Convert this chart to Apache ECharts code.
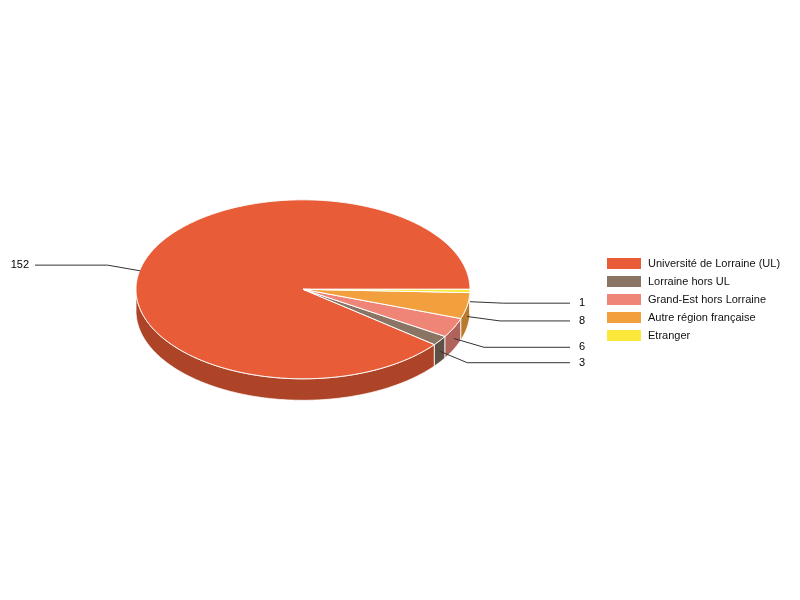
<!DOCTYPE html>
<html>
<head>
<meta charset="utf-8">
<script src="https://cdn.jsdelivr.net/npm/echarts@6/dist/echarts.min.js"></script>
<style>
html,body{margin:0;padding:0;background:#fff;}
#chart{width:800px;height:600px;}
</style>
</head>
<body>
<div id="chart"></div>
<script>
// ---- data ----
const categories = ['Université de Lorraine (UL)', 'Lorraine hors UL', 'Grand-Est hors Lorraine', 'Autre région française', 'Etranger'];
const values = [152, 3, 6, 8, 1];
// ---- styles ----
const topColors = ['#E85D38', '#8A7464', '#EE8576', '#F2A03E', '#FCE83A'];
const wallColors = ['#AD4428', '#5F5045', '#B0635A', '#B97A2E', '#BDAD2B'];

const geom = { cx: 303, cy: 289.3, rx: 167, ry: 89.5, depth: 21.5, rightX: 570, leftX: 35 };
const total = values.reduce((a, b) => a + b, 0);
const starts = [];
let acc = 0;
values.forEach(v => { starts.push(acc / total * 2 * Math.PI); acc += v; });

function pt(a, dz) {
  return [geom.cx + geom.rx * Math.cos(a), geom.cy - geom.ry * Math.sin(a) + (dz || 0)];
}
function arcPts(a0, a1, dz) {
  const n = Math.max(2, Math.ceil((a1 - a0) / 0.01));
  const res = [];
  for (let i = 0; i <= n; i++) res.push(pt(a0 + (a1 - a0) * i / n, dz));
  return res;
}

function renderItem(params, api) {
  const i = params.dataIndex;
  const v = api.value(0);
  const a0 = starts[i];
  const a1 = a0 + v / total * 2 * Math.PI;
  const children = [];
  // outer wall: visible only in lower half (angles PI..2PI)
  const w0 = Math.max(a0, Math.PI), w1 = Math.min(a1, 2 * Math.PI);
  if (w1 > w0) {
    const topE = arcPts(w0, w1, 0);
    const botE = arcPts(w0, w1, geom.depth).reverse();
    children.push({
      type: 'polygon', z2: 1,
      shape: { points: topE.concat(botE) },
      style: { fill: wallColors[i], stroke: '#fff', lineWidth: 0.8 }
    });
  }
  // top face
  children.push({
    type: 'polygon', z2: 5,
    shape: { points: [[geom.cx, geom.cy]].concat(arcPts(a0, a1, 0)) },
    style: { fill: topColors[i], stroke: '#fff', lineWidth: 1 }
  });
  // label
  const m = (a0 + a1) / 2;
  const right = Math.cos(m) >= 0;
  const an = pt(m, geom.depth / 2);
  if (!right) an[0] -= 5;
  const el = [geom.cx + (an[0] - geom.cx) * 1.2, geom.cy + (an[1] - geom.cy) * 1.2 - (right ? 1 : 2)];
  const endX = right ? geom.rightX : geom.leftX;
  children.push({
    type: 'polyline', z2: 10,
    shape: { points: [an, el, [endX, el[1]]] },
    style: { stroke: '#333', lineWidth: 1, fill: null }
  });
  children.push({
    type: 'text', z2: 10,
    style: {
      x: right ? endX + 9 : endX - 6, y: el[1],
      text: String(v),
      fill: '#000', font: '11px "Liberation Sans", Arial, sans-serif',
      align: right ? 'left' : 'right', verticalAlign: 'middle'
    }
  });
  return { type: 'group', children: children };
}

const chart = echarts.init(document.getElementById('chart'));
chart.setOption({
  animation: false,
  backgroundColor: '#fff',
  legend: {
    orient: 'vertical',
    left: 602, top: 253,
    itemWidth: 34, itemHeight: 11, itemGap: 7,
    icon: 'rect',
    selectedMode: false,
    data: categories,
    textStyle: { color: '#111', fontSize: 11, fontFamily: '"Liberation Sans", Arial, sans-serif', padding: [0, 0, 0, 2] }
  },
  series: [
    {
      type: 'pie', silent: true, radius: [0, 0], center: [-100, -100],
      label: { show: false }, labelLine: { show: false },
      data: categories.map((c, i) => ({ name: c, value: values[i], itemStyle: { color: topColors[i] } }))
    },
    {
      type: 'custom', coordinateSystem: 'none', silent: true,
      renderItem: renderItem,
      data: values.map(v => [v])
    }
  ]
});
</script>
</body>
</html>
